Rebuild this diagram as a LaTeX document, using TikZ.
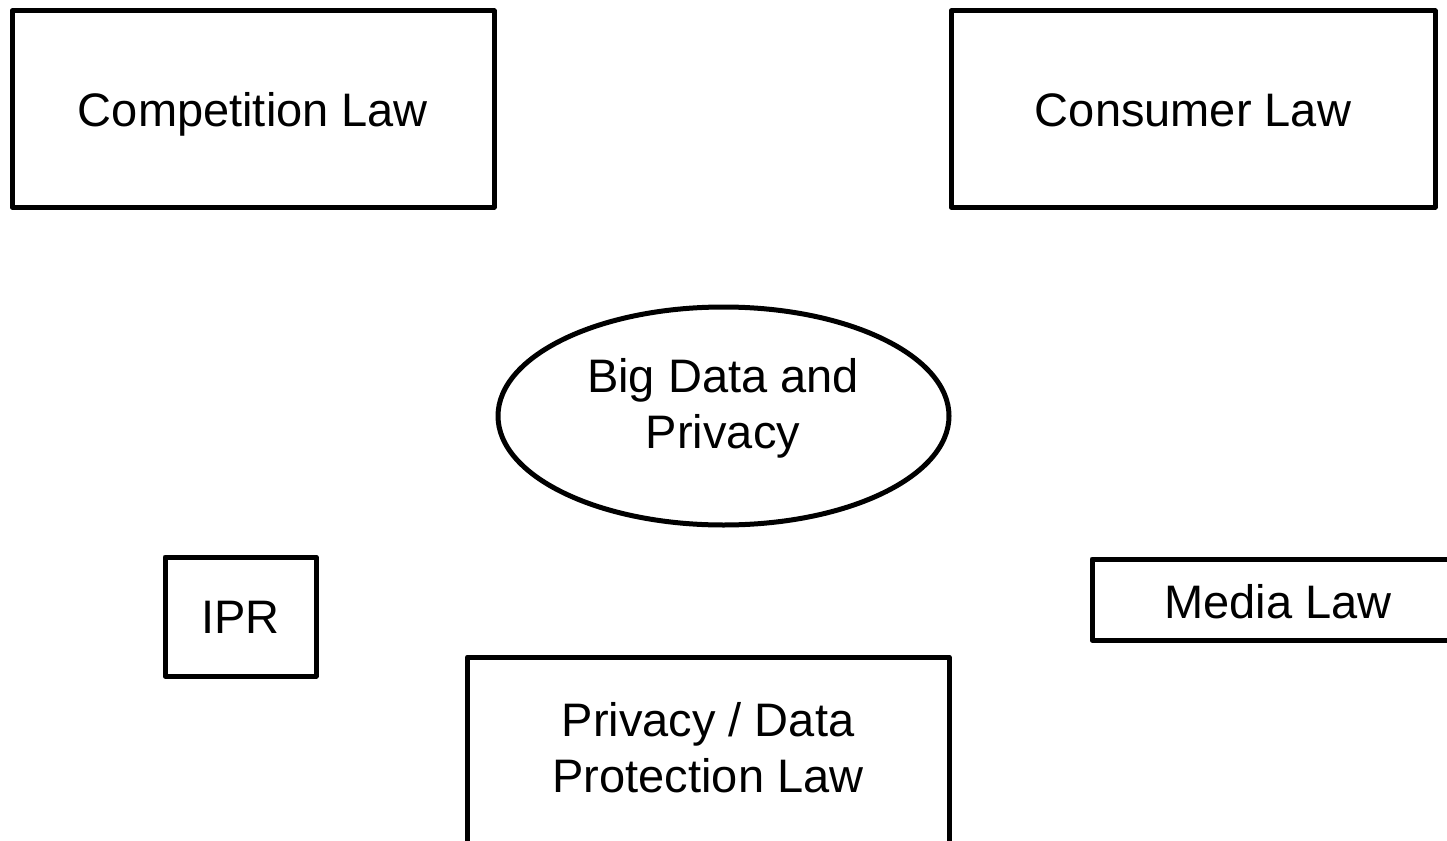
\documentclass[tikz,border=0pt]{standalone}
\usepackage{fontspec}
\setmainfont{Liberation Sans}
\usetikzlibrary{shapes.geometric}
\begin{document}
\begin{tikzpicture}[x=1pt,y=-1pt,
  lawbox/.style={draw=black, line width=5pt, line join=round, rectangle, inner sep=0pt, fill=white},
  hubshape/.style={draw=black, line width=5pt, ellipse, inner sep=0pt},
  labeltext/.style={font=\fontsize{47}{56}\selectfont, align=center, inner sep=0pt, anchor=base}]
  \useasboundingbox (0,0) rectangle (1447,840);
  \fill[white] (0,0) rectangle (1447,840);

  % top row
  \node[lawbox, minimum width=482pt, minimum height=196pt] (competition) at (253,109) {};
  \node[labeltext] (competitiontext) at (253,126) {Competition Law};
  \node[lawbox, minimum width=484pt, minimum height=196pt] (consumer) at (1193,109) {};
  \node[labeltext] (consumertext) at (1193,126) {Consumer Law};

  % centre (a multi-line label is placed by the baseline of its last line)
  \node[hubshape, minimum width=451pt, minimum height=218pt] (hub) at (723.5,416) {};
  \node[labeltext] (hubtext) at (723,448) {Big Data and\\Privacy};

  % lower row
  \node[lawbox, minimum width=151pt, minimum height=119pt] (ipr) at (240.5,616.5) {};
  \node[labeltext] (iprtext) at (240.5,633) {IPR};
  \node[lawbox, minimum width=372pt, minimum height=81pt] (media) at (1278,599.5) {};
  \node[labeltext] (mediatext) at (1278,618) {Media Law};
  \node[lawbox, minimum width=481.5pt, minimum height=240pt, anchor=north] (privacy) at (708.25,654.5) {};
  \node[labeltext] (privacytext) at (708,792) {Privacy / Data\\Protection Law};
\end{tikzpicture}
\end{document}
